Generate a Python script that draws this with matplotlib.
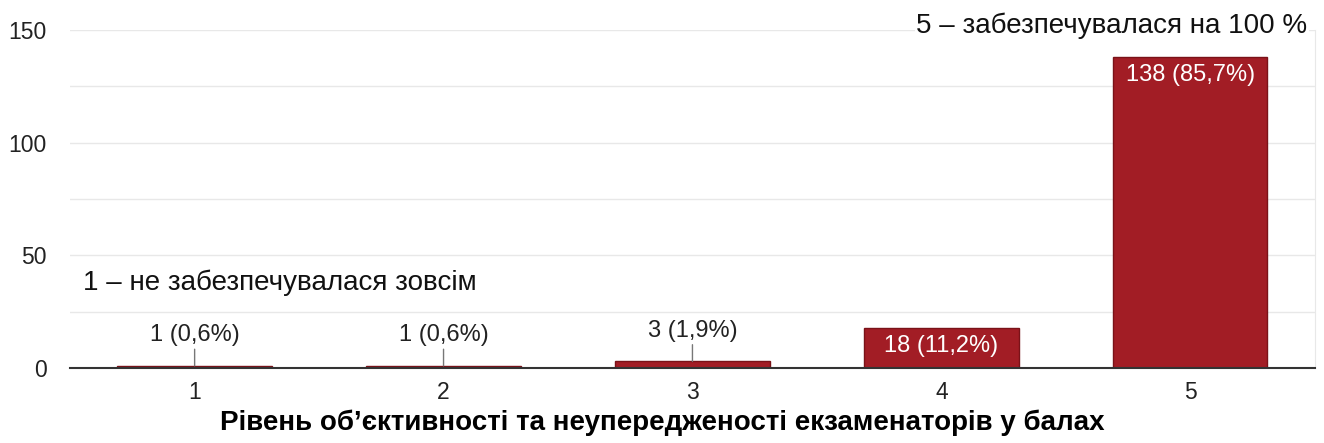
import numpy as np
import matplotlib.pyplot as plt

plt.rcParams['font.family'] = ['Liberation Sans', 'DejaVu Sans']

# data
levels = ["1", "2", "3", "4", "5"]
counts = [1, 1, 3, 18, 138]
percents = ["0,6%", "0,6%", "1,9%", "11,2%", "85,7%"]
yticks = [0, 50, 100, 150]
xlabel = "Рівень об’єктивності та неупередженості екзаменаторів у балах"
note_low = "1 – не забезпечувалася зовсім"
note_high = "5 – забезпечувалася на 100 %"

bar_color = "#a21d25"

fig = plt.figure(figsize=(13.24, 4.43), dpi=100)
ax = fig.add_axes([0.053, 0.169, 0.940, 0.763])

x = np.arange(1, len(levels) + 1)
bars = ax.bar(x, counts, width=0.62, color=bar_color, edgecolor="#7a1218",
              linewidth=1, zorder=3)

ax.set_xlim(0.5, 5.5)
ax.set_ylim(0, 150)
ax.set_yticks(yticks)
ax.set_yticks(np.arange(0, 151, 25), minor=True)
ax.grid(axis="y", which="both", color="#e8e8e8", linewidth=1, zorder=0)
ax.set_xticks(x)
ax.set_xticklabels(levels)
ax.tick_params(axis="both", which="both", length=0, labelsize=16.5, colors="#222222")
ax.tick_params(axis="x", pad=9)
ax.tick_params(axis="y", pad=17)

for side in ["left", "top"]:
    ax.spines[side].set_visible(False)
ax.spines["right"].set_color("#e8e8e8")
ax.spines["bottom"].set_color("#333333")
ax.spines["bottom"].set_linewidth(1.5)
ax.spines["bottom"].set_zorder(4)

for xi, c, p in zip(x, counts, percents):
    label = f"{c} ({p})"
    if c < 10:
        ax.annotate(label, xy=(xi, c), xytext=(0, 14), textcoords="offset points",
                    ha="center", va="bottom", fontsize=17, color="#222222",
                    arrowprops=dict(arrowstyle="-", color="#777777", lw=1,
                                    shrinkA=0, shrinkB=0))
    else:
        ax.annotate(label, xy=(xi, c), xytext=(0, -13), textcoords="offset points",
                    ha="center", va="center", fontsize=17, color="white", zorder=5)

ax.text(0.55, 38, note_low, fontsize=20, color="#111111", ha="left", va="center")
ax.text(5.47, 152, note_high, fontsize=20, color="#111111", ha="right", va="center",
        bbox=dict(facecolor="white", edgecolor="none", pad=1), zorder=6)

# the axis title is centred on the whole figure, not on the plot area
fig.text(0.5, 0.045, xlabel, fontsize=20, fontweight="bold", ha="center", va="center")

fig.savefig("out.png", dpi=100)
